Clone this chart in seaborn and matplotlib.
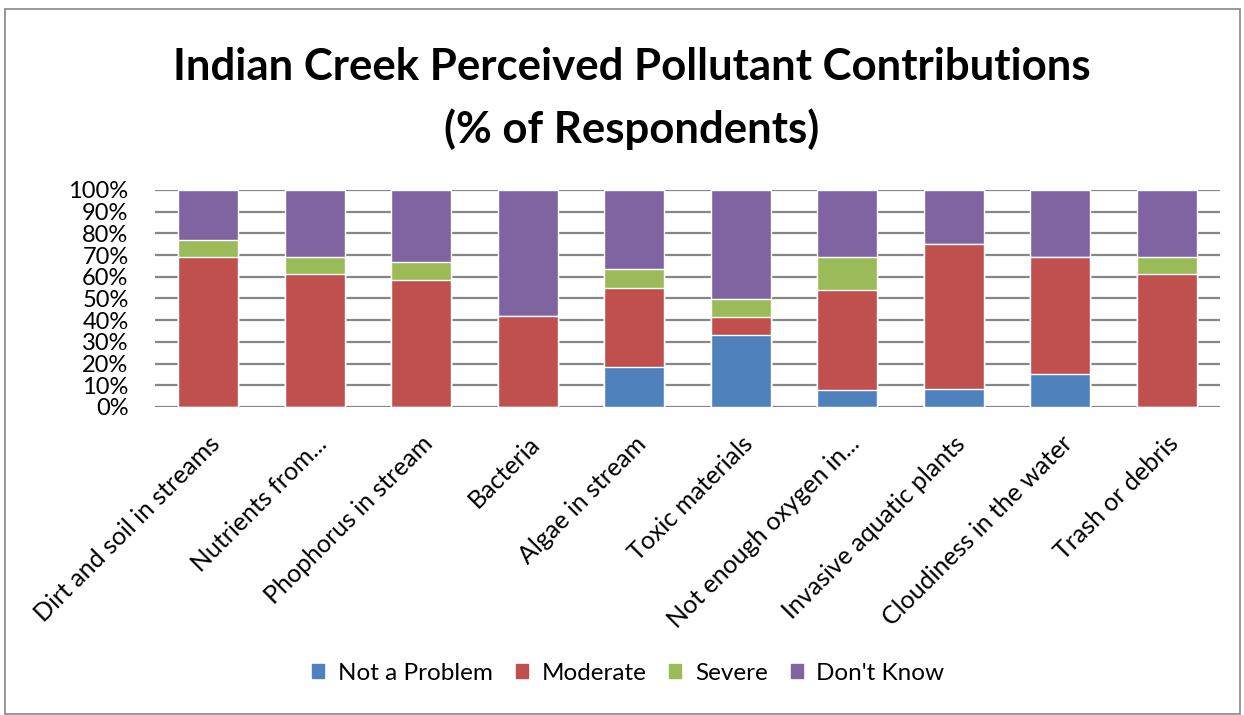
import matplotlib
matplotlib.use("Agg")
import matplotlib.pyplot as plt
import matplotlib.patches as mpatches
from matplotlib.ticker import PercentFormatter
import seaborn as sns
import pandas as pd
import numpy as np

# categories and % of respondents per answer
categories = ["Dirt and soil in streams", "Nutrients from...", "Phophorus in stream",
              "Bacteria", "Algae in stream", "Toxic materials", "Not enough oxygen in...",
              "Invasive aquatic plants", "Cloudiness in the water", "Trash or debris"]
not_a_problem = [0, 0, 0, 0, 18.2, 33.3, 7.7, 8.3, 15.4, 0]
moderate = [69.2, 61.5, 58.3, 41.7, 36.4, 8.3, 46.2, 66.7, 53.8, 61.5]
severe = [7.7, 7.7, 8.3, 0, 9.1, 8.3, 15.4, 0, 0, 7.7]
dont_know = [23.1, 30.8, 33.3, 58.3, 36.4, 50.0, 30.8, 25.0, 30.8, 30.8]

series = ["Not a Problem", "Moderate", "Severe", "Don't Know"]
colors = ["#4F81BD", "#C0504D", "#9BBB59", "#8064A2"]

sns.set_style("white")
plt.rcParams["font.family"] = ["Lato", "DejaVu Sans"]
plt.rcParams["text.color"] = "black"

df = pd.DataFrame({"category": categories, "Not a Problem": not_a_problem,
                   "Moderate": moderate, "Severe": severe, "Don't Know": dont_know})
cum = df[series].cumsum(axis=1)

fig = plt.figure(figsize=(12.44, 7.15), dpi=100)
ax = fig.add_axes([0.1246, 0.4308, 0.8561, 0.3035])

# draw from the top layer down so each layer covers the one above
for name, color in reversed(list(zip(series, colors))):
    sns.barplot(x=df["category"], y=cum[name], order=categories, color=color,
                width=0.56, saturation=1, ax=ax, zorder=3)

ax.set_ylim(0, 100)
ax.set_xlim(-0.5, 9.5)
ax.set_yticks(np.arange(0, 101, 10))
ax.yaxis.set_major_formatter(PercentFormatter(decimals=0))
ax.grid(axis="y", color="#868686", linewidth=1.6, zorder=0)
ax.set_axisbelow(True)
for s in ax.spines.values():
    s.set_visible(False)
ax.tick_params(axis="y", length=0, labelsize=17, pad=19, labelcolor="black")
ax.tick_params(axis="x", length=0, labelsize=18, pad=18, labelcolor="black")
ax.set_xlabel("")
ax.set_ylabel("")
plt.setp(ax.get_xticklabels(), rotation=45, ha="right", rotation_mode="anchor")

fig.text(0.5076, 1 - 80 / 715, "Indian Creek Perceived Pollutant Contributions",
         ha="center", va="baseline", fontsize=31.5, fontweight="bold", color="black")
fig.text(0.5076, 1 - 143 / 715, "(% of Respondents)",
         ha="center", va="baseline", fontsize=31.5, fontweight="bold", color="black")

handles = [mpatches.Patch(color=c, label=n) for n, c in zip(series, colors)]
fig.legend(handles=handles, loc="center", bbox_to_anchor=(0.505, 1 - 673 / 715), ncol=4,
           frameon=False, fontsize=17.5, handlelength=0.5, handleheight=0.5,
           handletextpad=0.55, columnspacing=0.95, labelcolor="black")

fig.patches.append(mpatches.Rectangle((0.004, 0.002), 0.993, 0.985, transform=fig.transFigure,
                                      fill=False, edgecolor="#868686", linewidth=1.2))

fig.savefig("out.png", dpi=100)
